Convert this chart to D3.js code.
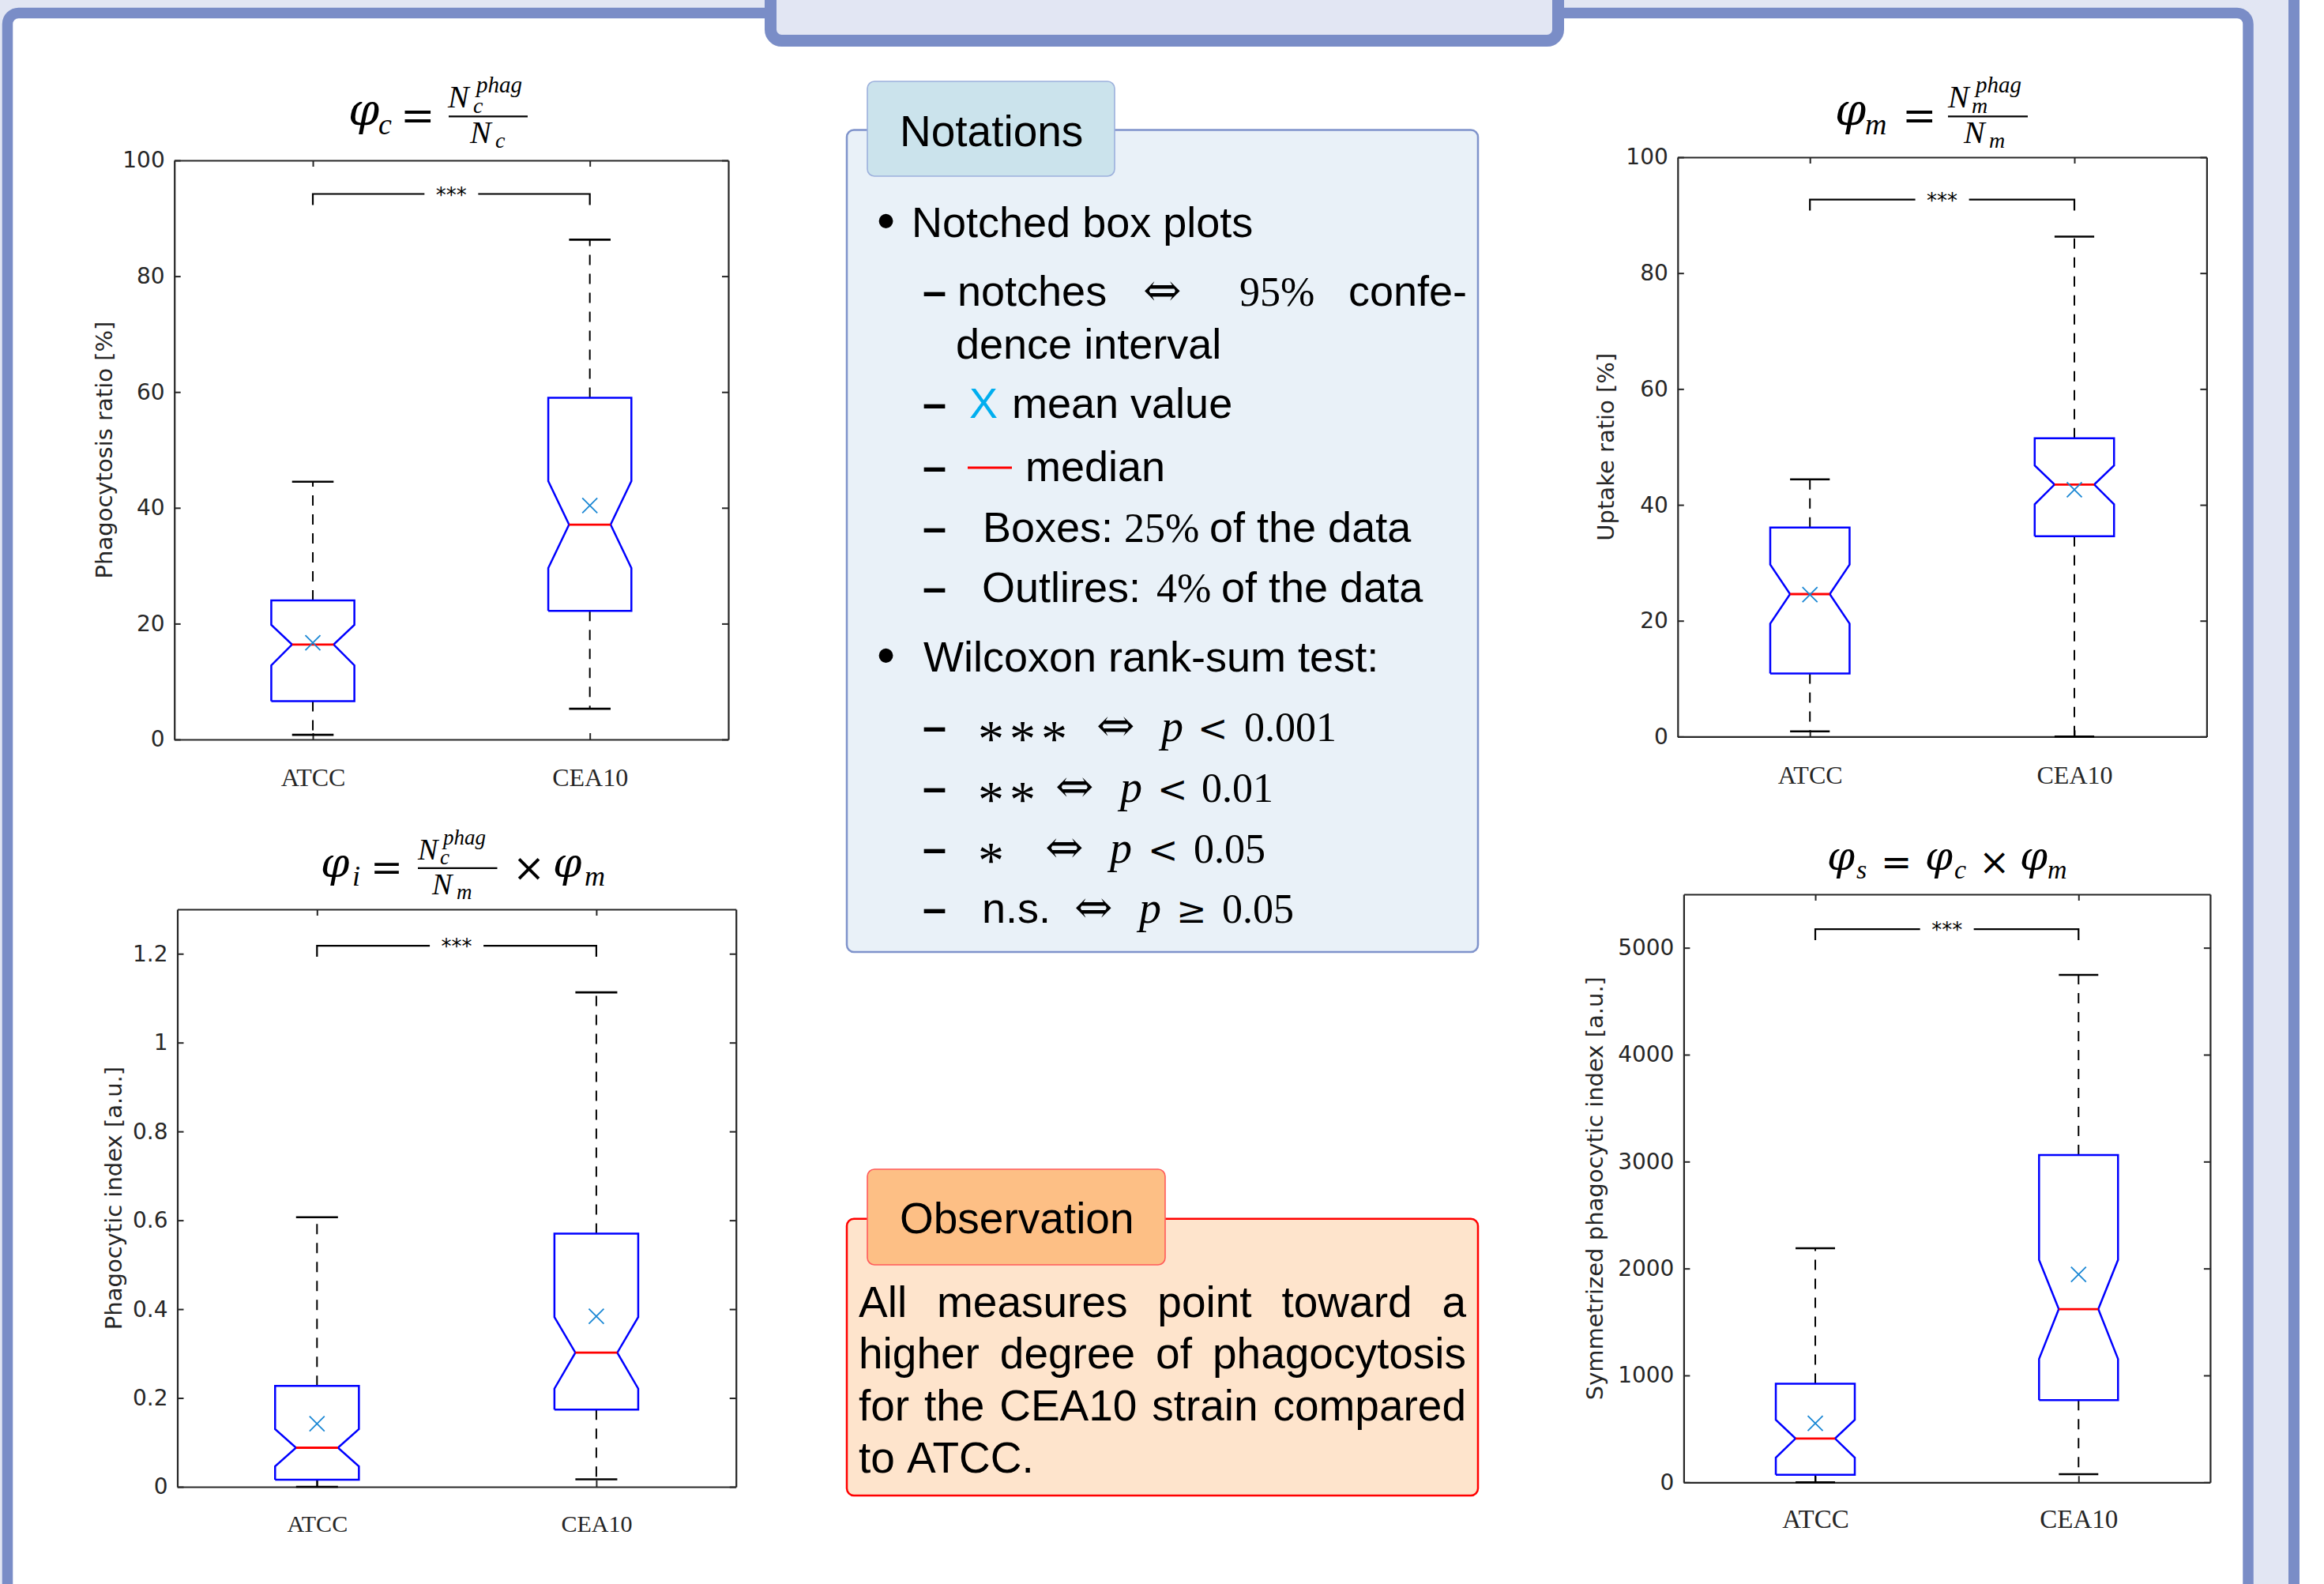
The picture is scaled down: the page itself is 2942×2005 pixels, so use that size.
<!DOCTYPE html>
<html>
<head>
<meta charset="utf-8">
<title>Phagocytosis notched box plots</title>
<script src="https://d3js.org/d3.v7.min.js"></script>
<style>
  body { margin: 0; background: #fff; }
  svg { display: block; }
  .tick text { fill: #262626; }
</style>
</head>
<body>
<svg id="chart"></svg>
<script>
// Categories (strains)
const categories = ['ATCC', 'CEA10'];

// Box statistics: [whisker low, q1, notch low, median, notch high, q3, whisker high]
const phiC_ATCC  = [0.8, 6.6, 12.8, 16.4, 19.8, 24.0, 44.5];
const phiC_CEA10 = [5.3, 22.2, 29.6, 37.1, 44.6, 59.0, 86.3];
const phiC_mean  = [16.7, 40.4];

const phiI_ATCC  = [0.0, 0.016, 0.046, 0.088, 0.130, 0.227, 0.607];
const phiI_CEA10 = [0.017, 0.174, 0.221, 0.302, 0.382, 0.570, 1.113];
const phiI_mean  = [0.142, 0.384];

const phiM_ATCC  = [0.9, 10.9, 19.5, 24.6, 29.7, 36.1, 44.4];
const phiM_CEA10 = [0.0, 34.6, 40.1, 43.5, 46.8, 51.5, 86.3];
const phiM_mean  = [24.5, 42.6];

const phiS_ATCC  = [0, 71, 231, 410, 584, 923, 2190];
const phiS_CEA10 = [76, 768, 1154, 1620, 2081, 3061, 4746];
const phiS_mean  = [551, 1945];

// Axis ticks
const ticksC = [0, 20, 40, 60, 80, 100];
const ticksI = [0, 0.2, 0.4, 0.6, 0.8, 1, 1.2];
const ticksM = [0, 20, 40, 60, 80, 100];
const ticksS = [0, 1000, 2000, 3000, 4000, 5000];

// Significance brackets (level in data units) and labels
const sigLevel  = [94.2, 1.218, 92.7, 5174];
const sigLabels = ['***', '***', '***', '***'];

const yLabels = ['Phagocytosis ratio [%]', 'Phagocytic index [a.u.]', 'Uptake ratio [%]', 'Symmetrized phagocytic index [a.u.]'];

const W = 2942, H = 2005;
const lavender = '#e2e6f3', frameBlue = '#7a8dc7';

const svg = d3.select('#chart').attr('width', W).attr('height', H);

// ---- poster frame ----
svg.append('rect').attr('width', W).attr('height', H).attr('fill', '#fff');
svg.append('rect').attr('width', 2911).attr('height', H).attr('fill', lavender);
svg.append('rect').attr('x', 2897).attr('width', 14).attr('height', H).attr('fill', frameBlue);
svg.append('rect')
    .attr('x', 9.5).attr('y', 16.5).attr('width', 2836.5).attr('height', 2150)
    .attr('rx', 14).attr('fill', '#fff').attr('stroke', frameBlue).attr('stroke-width', 13.5);
svg.append('rect')
    .attr('x', 975.5).attr('y', -60).attr('width', 997).attr('height', 111.5)
    .attr('rx', 14).attr('fill', lavender).attr('stroke', frameBlue).attr('stroke-width', 15);

// ---- panels ----
const panels = [
    { stats: [phiC_ATCC, phiC_CEA10], mean: phiC_mean, ticks: ticksC, domain: [0, 100],
      left: 220.7, top: 203, right: 922, bottom: 936, labelX: 141.6, pad: 36, catSize: 32 },
    { stats: [phiI_ATCC, phiI_CEA10], mean: phiI_mean, ticks: ticksI, domain: [0, 1.3],
      left: 224.5, top: 1151, right: 931.7, bottom: 1882, labelX: 154, pad: 36, catSize: 30 },
    { stats: [phiM_ATCC, phiM_CEA10], mean: phiM_mean, ticks: ticksM, domain: [0, 100],
      left: 2123.8, top: 199, right: 2793.4, bottom: 932.4, labelX: 2043, pad: 37, catSize: 32 },
    { stats: [phiS_ATCC, phiS_CEA10], mean: phiS_mean, ticks: ticksS, domain: [0, 5500],
      left: 2131.4, top: 1132, right: 2797.9, bottom: 1876.3, labelX: 2029, pad: 34, catSize: 33 }
];

const axisColor = '#262626';

panels.forEach((p, i) => {
    const g = svg.append('g');
    const x = d3.scalePoint().domain(categories).range([p.left, p.right]).padding(0.5);
    const y = d3.scaleLinear().domain(p.domain).range([p.bottom, p.top]);
    const half = x.step() * 0.15;

    // axes (ticks pointing inward on all four sides)
    const yl = g.append('g').attr('transform', `translate(${p.left},0)`)
        .call(d3.axisLeft(y).tickValues(p.ticks).tickSizeInner(-8).tickSizeOuter(0).tickPadding(12).tickFormat(d => d));
    const yr = g.append('g').attr('transform', `translate(${p.right},0)`)
        .call(d3.axisRight(y).tickValues(p.ticks).tickSizeInner(-8).tickSizeOuter(0).tickFormat(''));
    const xt = g.append('g').attr('transform', `translate(0,${p.top})`)
        .call(d3.axisTop(x).tickSizeInner(-8).tickSizeOuter(0).tickFormat(''));
    const xb = g.append('g').attr('transform', `translate(0,${p.bottom})`)
        .call(d3.axisBottom(x).tickSizeInner(-8).tickSizeOuter(0).tickPadding(p.pad));
    [yl, yr, xt, xb].forEach(a => {
        a.select('.domain').attr('stroke', axisColor).attr('stroke-width', 2.2);
        a.selectAll('.tick line').attr('stroke', axisColor).attr('stroke-width', 2);
    });
    yl.selectAll('.tick text').attr('font-family', 'DejaVu Sans').attr('font-size', 28);
    xb.selectAll('.tick text').attr('font-family', 'Liberation Serif').attr('font-size', p.catSize).attr('fill', '#111');

    // y-axis label
    g.append('text')
        .attr('transform', `translate(${p.labelX},${(p.top + p.bottom) / 2}) rotate(-90)`)
        .attr('text-anchor', 'middle')
        .attr('font-family', 'DejaVu Sans').attr('font-size', 29).attr('fill', axisColor)
        .text(yLabels[i]);

    const boxes = categories.map((c, k) => ({ cat: c, s: p.stats[k], mean: p.mean[k] }));

    // whiskers (dashed) and caps
    boxes.forEach(b => {
        const cx = x(b.cat);
        const [lo, q1, nLo, med, nHi, q3, hi] = b.s;
        g.append('line').attr('x1', cx).attr('x2', cx).attr('y1', y(q3)).attr('y2', y(hi))
            .attr('stroke', '#000').attr('stroke-width', 2).attr('stroke-dasharray', '13,11');
        g.append('line').attr('x1', cx).attr('x2', cx).attr('y1', y(q1)).attr('y2', y(lo))
            .attr('stroke', '#000').attr('stroke-width', 2).attr('stroke-dasharray', '13,11');
        [lo, hi].forEach(v => {
            g.append('line').attr('x1', cx - half / 2).attr('x2', cx + half / 2)
                .attr('y1', y(v)).attr('y2', y(v)).attr('stroke', '#000').attr('stroke-width', 2.6);
        });
    });

    // notched boxes
    const line = d3.line().x(d => d[0]).y(d => y(d[1]));
    boxes.forEach(b => {
        const cx = x(b.cat);
        const [lo, q1, nLo, med, nHi, q3, hi] = b.s;
        const pts = [
            [cx - half, q1], [cx + half, q1], [cx + half, nLo], [cx + half / 2, med],
            [cx + half, nHi], [cx + half, q3], [cx - half, q3], [cx - half, nHi],
            [cx - half / 2, med], [cx - half, nLo], [cx - half, q1]
        ];
        g.append('path').attr('d', line(pts)).attr('fill', 'none')
            .attr('stroke', '#0000ff').attr('stroke-width', 2.5).attr('stroke-linejoin', 'miter');
        g.append('line').attr('x1', cx - half / 2).attr('x2', cx + half / 2)
            .attr('y1', y(med)).attr('y2', y(med)).attr('stroke', '#ff0000').attr('stroke-width', 2.8);
        const my = y(b.mean), r = 9.5;
        g.append('path')
            .attr('d', `M${cx - r},${my - r}L${cx + r},${my + r}M${cx - r},${my + r}L${cx + r},${my - r}`)
            .attr('stroke', '#1a87d4').attr('stroke-width', 1.8).attr('fill', 'none');
    });

    // significance bracket
    const x0 = x(categories[0]), x1 = x(categories[1]), xm = (x0 + x1) / 2, yb = y(sigLevel[i]);
    g.append('path')
        .attr('d', `M${x0},${yb + 14}V${yb}H${xm - 34}M${xm + 34},${yb}H${x1}V${yb + 14}`)
        .attr('fill', 'none').attr('stroke', '#000').attr('stroke-width', 2.2);
    g.append('text').attr('x', xm).attr('y', yb + 10).attr('text-anchor', 'middle')
        .attr('font-family', 'DejaVu Sans').attr('font-size', 26).attr('fill', '#000')
        .text(sigLabels[i]);
});

// ---- panel titles (math formulas, one text element per title) ----
const fonts = {
    phi: { family: 'DejaVu Serif', style: 'italic' },
    it: { family: 'Liberation Serif', style: 'italic' },
    rm: { family: 'DejaVu Serif', style: 'normal' }
};
const titles = [
    // phi_c = N_c^phag / N_c
    [['φ', 441, 158, 56, 'phi'], ['c', 479, 170, 38, 'it'], ['=', 507, 164, 52, 'rm'],
     ['N', 567, 136, 40, 'it'], ['phag', 603, 117, 29, 'it'], ['c', 599, 143, 28, 'it'],
     ['N', 595, 181, 40, 'it'], ['c', 627, 187, 28, 'it']],
    // phi_m = N_m^phag / N_m
    [['φ', 2323, 158, 56, 'phi'], ['m', 2361, 170, 38, 'it'], ['=', 2408, 164, 52, 'rm'],
     ['N', 2466, 136, 40, 'it'], ['phag', 2501, 117, 29, 'it'], ['m', 2496, 143, 28, 'it'],
     ['N', 2486, 181, 40, 'it'], ['m', 2518, 187, 28, 'it']],
    // phi_i = N_c^phag / N_m x phi_m
    [['φ', 406, 1110, 52, 'phi'], ['i', 446, 1121, 36, 'it'], ['=', 469, 1115, 49, 'rm'],
     ['N', 529, 1087.6, 38, 'it'], ['phag', 561, 1069, 27, 'it'], ['c', 557, 1094, 27, 'it'],
     ['N', 547, 1132, 38, 'it'], ['m', 578, 1138, 27, 'it'],
     ['×', 649, 1115, 49, 'rm'], ['φ', 700, 1110, 52, 'phi'], ['m', 740, 1121, 36, 'it']],
    // phi_s = phi_c x phi_m
    [['φ', 2313, 1101, 50, 'phi'], ['s', 2350, 1112, 34, 'it'], ['=', 2381, 1107, 47, 'rm'],
     ['φ', 2437, 1101, 50, 'phi'], ['c', 2474, 1112, 34, 'it'], ['×', 2505, 1107, 47, 'rm'],
     ['φ', 2557, 1101, 50, 'phi'], ['m', 2592, 1112, 34, 'it']]
];
const titleBars = [[568, 668, 147.3], [2466, 2567, 147.3], [529, 629.5, 1098.9]];
titles.forEach(pieces => {
    const t = svg.append('text').attr('fill', '#000');
    pieces.forEach(([s, px, py, size, f]) => {
        t.append('tspan').attr('x', px).attr('y', py)
            .attr('font-family', fonts[f].family).attr('font-style', fonts[f].style)
            .attr('font-size', size).text(s);
    });
});
titleBars.forEach(([a, b, yy]) => {
    svg.append('line').attr('x1', a).attr('x2', b).attr('y1', yy).attr('y2', yy)
        .attr('stroke', '#000').attr('stroke-width', 2.2);
});

// ---- Notations box ----
const sans = 'Liberation Sans', serif = 'Liberation Serif';
svg.append('rect').attr('x', 1072).attr('y', 164.5).attr('width', 799).attr('height', 1040.5)
    .attr('rx', 9).attr('fill', '#e9f1f8').attr('stroke', '#7f93cb').attr('stroke-width', 2.5);
svg.append('rect').attr('x', 1098).attr('y', 103).attr('width', 313).attr('height', 120)
    .attr('rx', 9).attr('fill', '#cbe3ec').attr('stroke', '#9cb0dc').attr('stroke-width', 1.6);
function txt(t, px, py, opts = {}) {
    return svg.append('text').attr('x', px).attr('y', py)
        .attr('font-family', opts.family || sans).attr('font-size', opts.size || 54)
        .attr('font-style', opts.style || 'normal').attr('font-weight', opts.weight || 'normal')
        .attr('fill', opts.fill || '#000').text(t);
}
txt('Notations', 1139, 185, { size: 55 });

const dash = py => txt('–', 1168, py, { weight: 'bold' });
const arrow = (px, py) => txt('⇔', px, py, { family: 'DejaVu Serif', size: 58 });
const mathIt = (t, px, py) => txt(t, px, py, { family: serif, style: 'italic', size: 56 });
const mathRm = (t, px, py) => txt(t, px, py, { family: serif, size: 52 });
const mathRel = (t, px, py) => txt(t, px, py, { family: 'DejaVu Serif', size: 46 });

txt('•', 1110, 302, { size: 66 });
txt('Notched box plots', 1154, 300);
dash(387); txt('notches', 1212, 387); arrow(1447, 387); mathRm('95%', 1569, 387); txt('confe-', 1707, 387);
txt('dence interval', 1210, 454);
dash(529); txt('X', 1227, 529, { fill: '#00aeef' }); txt('mean value', 1281, 529);
dash(609);
svg.append('line').attr('x1', 1225).attr('x2', 1281).attr('y1', 592).attr('y2', 592)
    .attr('stroke', '#ff0000').attr('stroke-width', 3);
txt('median', 1298, 609);
dash(686); txt('Boxes:', 1244, 686); mathRm('25%', 1423, 686); txt('of the data', 1531, 686);
dash(762); txt('Outlires:', 1243, 762); mathRm('4%', 1464, 762); txt('of the data', 1546, 762);
txt('•', 1110, 851.5, { size: 66 });
txt('Wilcoxon rank-sum test:', 1169, 849.5);

// thin math asterisks, lowered onto the math axis
const star = (t, py) => svg.append('text').attr('x', 1238).attr('y', py + 19)
    .attr('font-family', serif).attr('font-size', 66).attr('letter-spacing', 7).attr('fill', '#000').text(t);
dash(938); star('***', 938); arrow(1388, 938); mathIt('p', 1470, 938); mathRel('<', 1516, 938); mathRm('0.001', 1575, 938);
dash(1015); star('**', 1015); arrow(1336, 1015); mathIt('p', 1418, 1015); mathRel('<', 1465, 1015); mathRm('0.01', 1521, 1015);
dash(1092); star('*', 1092); arrow(1323, 1092); mathIt('p', 1405, 1092); mathRel('<', 1453, 1092); mathRm('0.05', 1511, 1092);
dash(1168); txt('n.s.', 1243, 1168); arrow(1360, 1168); mathIt('p', 1442, 1168); mathRel('≥', 1489, 1168); mathRm('0.05', 1547, 1168);

// ---- Observation box ----
svg.append('rect').attr('x', 1072).attr('y', 1542.7).attr('width', 799).attr('height', 350.3)
    .attr('rx', 9).attr('fill', '#fee4cc').attr('stroke', '#ff0000').attr('stroke-width', 2.5);
svg.append('rect').attr('x', 1098).attr('y', 1480).attr('width', 377).attr('height', 121)
    .attr('rx', 9).attr('fill', '#fdbf85').attr('stroke', '#ff5a5a').attr('stroke-width', 1.6);
txt('Observation', 1139, 1561, { size: 55 });

const obsLines = [
    'All measures point toward a',
    'higher degree of phagocytosis',
    'for the CEA10 strain compared',
    'to ATCC.'
];
const obsBase = [1666.5, 1732, 1797.5, 1864];
const obsLeft = 1087, obsRight = 1856;
obsLines.forEach((ln, li) => {
    const words = ln.split(' ');
    const nodes = words.map(w => txt(w, 0, obsBase[li], { size: 55 }));
    const widths = nodes.map(n => n.node().getComputedTextLength());
    const total = d3.sum(widths);
    const last = li === obsLines.length - 1;
    const gap = last ? 15 : (obsRight - obsLeft - total) / (words.length - 1);
    let cx = obsLeft;
    nodes.forEach((n, k) => { n.attr('x', cx); cx += widths[k] + gap; });
});
</script>
</body>
</html>
